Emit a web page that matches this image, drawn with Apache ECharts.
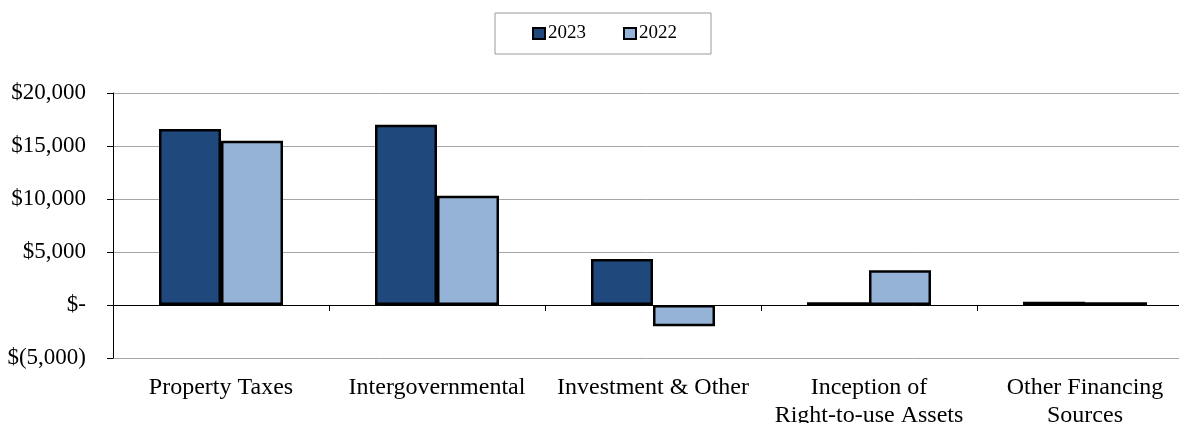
<!DOCTYPE html>
<html>
<head>
<meta charset="utf-8">
<script src="https://cdn.jsdelivr.net/npm/echarts@6/dist/echarts.min.js"></script>
<style>
  html, body { margin: 0; padding: 0; background: #fff; }
  #chart { width: 1179px; height: 423px; }
</style>
</head>
<body>
<div id="chart"></div>
<script>
// Revenue sources by category, in thousands of dollars
const categories = [
  'Property Taxes',
  'Intergovernmental',
  'Investment & Other',
  'Inception of\nRight-to-use Assets',
  'Other Financing\nSources'
];
const values2023 = [16600, 17000, 4350, 250, 300];
const values2022 = [15500, 10300, -2000, 3270, 250];
const yTicks = { min: -5000, max: 20000, interval: 5000 };

const serif = '"Liberation Serif", "Times New Roman", serif';

function dollarLabel(v) {
  if (v === 0) return '$-';
  const s = Math.abs(v).toLocaleString('en-US');
  return v < 0 ? '$(' + s + ')' : '$' + s;
}

const chart = echarts.init(document.getElementById('chart'), null, { renderer: 'canvas' });
chart.setOption({
  animation: false,
  backgroundColor: '#ffffff',
  legend: {
    data: ['2023', '2022'],
    left: 495,
    top: 13,
    padding: [11, 34, 11, 37],
    borderColor: '#9a9a9a',
    borderWidth: 1,
    itemGap: 37,
    itemWidth: 12,
    itemHeight: 11,
    icon: 'rect',
    textStyle: { fontFamily: serif, fontSize: 19, color: '#000', padding: [0, 0, 0, -2] }
  },
  // plot area runs slightly past the right edge of the canvas
  grid: { left: 113, top: 93, width: 1080, height: 265, containLabel: false, outerBoundsMode: 'none' },
  xAxis: [
    {
      type: 'category',
      data: categories,
      axisLine: { onZero: true, lineStyle: { color: '#000', width: 1 } },
      axisTick: { show: true, length: 6, lineStyle: { color: '#000' } },
      axisLabel: { show: false },
      splitLine: { show: false }
    },
    {
      type: 'category',
      data: categories,
      position: 'bottom',
      axisLine: { show: false },
      axisTick: { show: false },
      axisLabel: {
        interval: 0,
        margin: 16,
        fontFamily: serif,
        fontSize: 24,
        lineHeight: 28,
        color: '#000'
      }
    }
  ],
  yAxis: {
    type: 'value',
    min: yTicks.min,
    max: yTicks.max,
    interval: yTicks.interval,
    axisLine: { show: true, lineStyle: { color: '#000', width: 1 } },
    axisTick: { show: true, length: 6, lineStyle: { color: '#000' } },
    axisLabel: {
      margin: 27,
      fontFamily: serif,
      fontSize: 23,
      color: '#000',
      formatter: dollarLabel
    },
    splitLine: { show: true, lineStyle: { color: '#a6a6a6', width: 1 } }
  },
  series: [
    {
      name: '2023',
      type: 'bar',
      xAxisIndex: 0,
      data: values2023,
      barWidth: 62,
      barGap: '0%',
      itemStyle: { color: '#1f497d', borderColor: '#000', borderWidth: 2.5 }
    },
    {
      name: '2022',
      type: 'bar',
      xAxisIndex: 0,
      data: values2022,
      barWidth: 62,
      barGap: '0%',
      itemStyle: { color: '#95b3d7', borderColor: '#000', borderWidth: 2.5 }
    }
  ]
});
</script>
</body>
</html>
